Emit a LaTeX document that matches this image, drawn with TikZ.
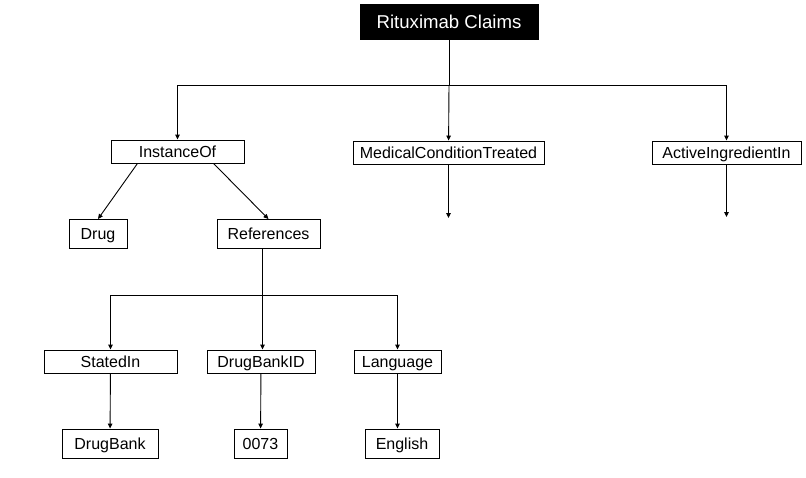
\documentclass[tikz,border=0pt]{standalone}
\usepackage{fontspec}
\setmainfont{Liberation Sans}
\usepackage{tikz}
\usetikzlibrary{positioning}
\usetikzlibrary{arrows.meta}

\tikzset{
  claimbox/.style={draw, rectangle, fill=white, line width=0.9pt, inner sep=0pt,
                   font=\fontsize{16}{18}\selectfont, text height=11.8pt, text depth=0pt,
                   minimum height=23pt},
  valuebox/.style={claimbox, minimum height=29pt},
  rootbox/.style={draw, rectangle, fill=black, text=white, inner sep=0pt,
                  font=\fontsize{18.6}{22}\selectfont, text height=13.6pt, text depth=0pt,
                  minimum width=178pt, minimum height=35pt}
}

\begin{document}
\begin{tikzpicture}[x=1pt,y=-1pt,line width=0.9pt,>={Triangle[length=5pt,width=4.5pt]}]
    \useasboundingbox (0,0) rectangle (806,477);

    % Racine
    \node (root) [rootbox] at (449,21.5) {Rituximab Claims};
    \coordinate (hub) at (449,85);

    % Premier niveau : proprietes
    \node (instof)  [claimbox, minimum width=133pt] at (177.5,151.5) {InstanceOf};
    \node (medcond) [claimbox, minimum width=191pt] at (448.5,152.5) {MedicalConditionTreated};
    \node (active)  [claimbox, minimum width=149pt] at (726.5,152.5) {ActiveIngredientIn};
    \coordinate (medEnd)    at (448.5,218);
    \coordinate (activeEnd) at (726.5,217);

    % Branche InstanceOf
    \node (drug) [valuebox, minimum width=58pt]  at (98,234)    {Drug};
    \node (refs) [valuebox, minimum width=103pt] at (268.5,234) {References};
    \coordinate (refhub) at (262.5,295);

    % Branche References
    \node (stated)   [claimbox, minimum width=133pt] at (110.5,361.5) {StatedIn};
    \node (dbid)     [claimbox, minimum width=108pt] at (261,361.5)   {DrugBankID};
    \node (language) [claimbox, minimum width=87pt]  at (397.5,361.5) {Language};

    \node (drugbank) [valuebox, minimum width=96pt] at (110,443.5)   {DrugBank};
    \node (idval)    [valuebox, minimum width=53pt] at (260.5,443.5) {0073};
    \node (english)  [valuebox, minimum width=74pt] at (402,443.5)   {English};

    % Fleches
    \draw (root) -- (hub);
    \draw[->] (hub) -| (instof);
    \draw[->] (hub) -- (medcond);
    \draw[->] (hub) -| (active);
    \draw[->] (medcond) -- (medEnd);
    \draw[->] (active) -- (activeEnd);

    \draw[->] ([xshift=-40pt]instof.south) -- (drug.north);
    \draw[->] ([xshift=36pt]instof.south) -- (refs.north);

    \draw ([xshift=-6pt]refs.south) -- (refhub);
    \draw[->] (refhub) -| (stated);
    \draw[->] (refhub) -- (refhub |- dbid.north);
    \draw[->] (refhub) -| (language);

    \draw[->] (stated) -- (drugbank);
    \draw[->] (dbid) -- (idval);
    \draw[->] (language) -- (language |- english.north);
  \end{tikzpicture}
\end{document}
